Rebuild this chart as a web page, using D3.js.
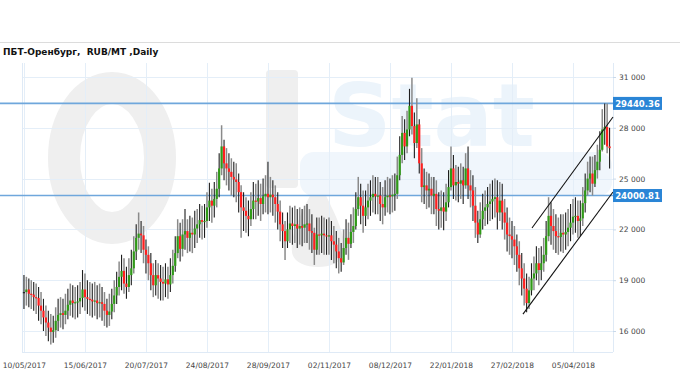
<!DOCTYPE html>
<html><head><meta charset="utf-8">
<script src="https://cdn.jsdelivr.net/npm/d3@7"></script>
<style>body{margin:0;background:#fff}svg{display:block}</style>
</head><body><svg id="c" width="680" height="380"></svg>
<script>
const title = "ПБТ-Оренбург,  RUB/MT ,Daily";
const tickIndex = [0,25,50,75,100,125,150,175,200,225];
const tickLabels = ["10/05/2017","15/06/2017","20/07/2017","24/08/2017","28/09/2017","02/11/2017","08/12/2017","22/01/2018","27/02/2018","05/04/2018"];
const yTicks = [16000,19000,22000,25000,28000,31000];
const levels = [29440.36, 24000.81];
const firstOpen = 18300;
const closes = [18300,18450,18200,18150,18000,17950,17500,17200,16800,16500,
16200,15950,16050,16600,16950,17050,16950,17200,17550,17800,
17650,17700,17750,17950,18450,18000,17900,17850,17750,17800,
17650,17700,17600,17200,16950,17150,17600,18100,18600,19200,
19550,18800,18600,19300,19700,20700,21500,21750,21650,20800,
20500,20000,19300,18700,19300,19100,18900,18800,19050,18750,
19300,19850,20600,21600,20850,21700,21900,21500,21800,21700,
22050,22300,22550,22450,22500,23300,23700,23400,23800,24400,
25600,26900,25900,25600,25400,25100,24950,24800,24200,23300,
23100,22800,22600,23200,23700,23650,23850,23500,23950,24100,
23900,24050,23900,23500,23050,22300,21900,21300,22000,22350,
22200,22300,22050,22200,22100,22300,22350,21900,21800,20800,
21700,21650,21750,21650,21600,21650,21300,21100,20700,20300,
20050,20900,21500,21150,21850,22200,23200,23900,23400,22800,
23300,23700,23900,24100,23950,24000,23500,23300,23900,24000,
23950,24050,24100,25200,26400,27700,26900,27900,29300,28100,
27100,28200,25900,24500,24600,24300,24400,24000,24100,23200,
23100,23300,23050,23600,24500,25600,24600,24800,24700,24900,
24600,25600,24600,24300,23400,22400,21700,22600,23100,23300,
23500,23650,23800,23900,23000,23700,23000,22400,21700,21600,
21400,21000,20500,19700,19100,18500,17650,18400,19100,19400,
20000,19600,20000,20500,21600,22800,22200,21900,21600,21550,
21800,21700,21850,22100,22400,22750,22800,22500,22650,23550,
24300,25000,25300,24700,25500,26000,26700,27900,28050,26900,
26800];
const highs = [19300,19200,19100,19000,18900,18800,18600,18300,17900,17500,
17200,17000,16900,17400,17900,18000,17900,18200,18500,18800,
18700,18600,18700,18900,19600,19400,19000,18900,18800,18900,
18700,18800,18600,18300,17900,18200,18500,19000,19500,20100,
20500,20300,19800,20300,20800,21600,22300,23000,22500,22200,
21400,21000,20600,20000,20200,20000,19900,19800,20000,19800,
20300,20800,21600,22600,22400,22600,23200,22600,22800,22700,
23100,23200,23500,23400,23500,24200,24750,24400,24800,25400,
26500,28150,27300,26800,26500,26200,26000,25900,25300,24600,
24200,23900,23700,24200,24800,24700,24900,24700,25000,25200,
26000,25100,24900,24600,24200,23700,23000,22500,23000,23400,
23300,23400,23200,23300,23200,23400,23500,23200,22900,22100,
22700,22700,22800,22700,22600,22700,22500,22200,21900,21500,
21200,22000,22600,22400,22900,23300,24200,25100,24700,24300,
24300,24700,24900,25200,25100,25100,24800,24500,24900,25100,
25000,25200,25300,26300,27500,28700,28500,29000,30300,30950,
28900,29750,28500,26800,25600,25400,25300,25100,25100,24900,
24200,24300,24200,24700,25500,26900,26400,25800,25700,25900,
25700,26500,26900,25500,25200,24500,23100,23600,24100,24300,
24500,24700,24900,25000,24900,24800,24700,23800,23300,22700,
22500,22200,21700,21300,20600,20000,19400,19200,20000,20400,
21000,20900,21000,21500,22500,23900,23600,23200,22900,22700,
22900,22900,23000,23200,23500,23800,23900,23700,23700,24500,
25300,26000,26300,26300,26400,27000,27800,29100,29440,29440,
28000];
const lows = [17300,17500,17400,17300,17200,17000,16600,16400,16000,15700,
15400,15200,15300,15600,16000,16200,16100,16400,16700,16900,
16800,16700,16800,17000,17400,17200,17000,16900,16800,16900,
16700,16800,16600,16300,16200,16300,16700,17100,17600,18100,
18400,18200,17900,18300,18700,19400,20200,20800,20600,20000,
19400,19000,18400,18000,18100,17900,17800,17800,18000,17900,
18300,18800,19500,20300,20100,20400,20800,20600,20700,20600,
20900,21200,21500,21400,21500,22100,22500,22400,22700,23300,
23900,25200,24900,24600,24300,24000,23900,23600,23000,21500,
21900,21800,21600,22200,22600,22600,22800,22500,22900,23000,
22900,23000,22800,22400,22000,21300,20900,20200,20900,21200,
21100,21200,20900,21100,21000,21200,21200,20800,20600,19900,
20500,20500,20600,20500,20500,20500,20200,20000,19700,19400,
19500,19900,20500,20200,20900,21200,22000,22800,22300,21800,
22200,22600,22800,23000,22900,22900,22500,22300,22800,23000,
22900,23000,23100,23800,24900,25900,26100,26500,27500,27600,
26200,26800,25300,23600,23500,23200,23300,22900,22900,22200,
22000,22100,21950,22500,23300,24300,23800,23700,23600,23800,
23500,24400,23800,23300,22500,21500,21200,21500,22000,22200,
22300,22500,22600,22700,22000,22500,22000,21400,20700,20500,
20300,19900,19500,18700,18100,17500,17100,17300,18100,18400,
19000,18700,19000,19500,20100,21300,21100,20800,20600,20500,
20700,20600,20800,21000,21300,21700,21800,21500,21600,22200,
23000,24000,24200,24000,24500,25000,25500,26600,27000,26500,
25600];
// trend channel endpoints: [bar index, price]
const trendUpper = [[208.2, 22080], [241.4, 28640]];
const trendLower = [[204.5, 17000], [241.4, 24210]];

const svg = d3.select("#c");
const L = 22, R = 613, T = 63, B = 352;
const x = d3.scaleLinear().domain([-0.8, 241.4]).range([L, R]);
const y = d3.scaleLinear().domain([16000, 31000]).range([331, 77]);

// header
svg.append("line").attr("x1",0).attr("x2",680).attr("y1",42.5).attr("y2",42.5).attr("stroke","#dcdcdc");
svg.append("text").attr("x",3).attr("y",55).attr("font-family","DejaVu Sans").attr("font-size",9)
  .attr("font-weight","bold").attr("fill","#111").style("white-space","pre").text(title);

// watermark
const wm = svg.append("g");
wm.append("ellipse").attr("cx",112).attr("cy",158).attr("rx",48).attr("ry",70)
  .attr("fill","none").attr("stroke","#efefef").attr("stroke-width",32);
wm.append("rect").attr("x",266).attr("y",70).attr("width",32).attr("height",118).attr("rx",4).attr("fill","#efefef");
wm.append("path").attr("d","M318,180 C300,215 290,235 292,252 C294,272 342,272 344,252 C346,235 336,215 318,180 Z").attr("fill","#efefef");
wm.append("rect").attr("x",300).attr("y",152).attr("width",312).attr("height",44).attr("rx",14).attr("fill","#f0f6fc");
wm.append("text").attr("x",328).attr("y",146).attr("font-family","DejaVu Sans").attr("font-weight","bold")
  .attr("font-size",88).attr("fill","#ecf4fb").text("Stat");

// grid
const grid = svg.append("g");
yTicks.forEach(v => grid.append("line").attr("x1",L).attr("x2",R).attr("y1",Math.round(y(v))+0.5).attr("y2",Math.round(y(v))+0.5).attr("stroke","#e4eef8"));
tickIndex.forEach(i => grid.append("line").attr("x1",Math.round(x(i))+0.5).attr("x2",Math.round(x(i))+0.5).attr("y1",T).attr("y2",B).attr("stroke","#e4eef8"));
grid.append("line").attr("x1",L+0.5).attr("x2",L+0.5).attr("y1",T).attr("y2",B).attr("stroke","#dfeaf6");
grid.append("line").attr("x1",L).attr("x2",R).attr("y1",B+0.5).attr("y2",B+0.5).attr("stroke","#dfeaf6");
grid.append("line").attr("x1",R+0.5).attr("x2",R+0.5).attr("y1",T).attr("y2",B).attr("stroke","#dfeaf6");

// level lines
levels.forEach(v => svg.append("line").attr("x1",0).attr("x2",R).attr("y1",y(v)).attr("y2",y(v))
  .attr("stroke","#6fa7dc").attr("stroke-width",1.6));

// candles
const data = closes.map((c,i) => ({i, o: i===0 ? firstOpen : closes[i-1], c, h: highs[i], l: lows[i]}));
const g = svg.append("g");
g.selectAll("line.w").data(data).join("line").attr("class","w")
  .attr("x1",d=>x(d.i)).attr("x2",d=>x(d.i)).attr("y1",d=>y(d.h)).attr("y2",d=>y(d.l))
  .attr("stroke",d=>d.i%2 ? "#8a8a8a" : "#1e1e1e").attr("stroke-width",d=>d.i%2 ? 1.5 : 1.1);
g.selectAll("rect.b").data(data).join("rect").attr("class","b")
  .attr("x",d=>x(d.i)-1.1).attr("width",2.2)
  .attr("y",d=>y(Math.max(d.o,d.c)))
  .attr("height",d=>Math.max(1.2, Math.abs(y(d.o)-y(d.c))))
  .attr("fill",d=>d.c>d.o ? "#2f9a17" : (d.c<d.o ? "#ff1f1f" : "#222"));

// trend lines
[trendUpper, trendLower].forEach(t => svg.append("line")
  .attr("x1",x(t[0][0])).attr("y1",y(t[0][1])).attr("x2",x(t[1][0])).attr("y2",y(t[1][1]))
  .attr("stroke","#111").attr("stroke-width",1.1));

// y axis
const fmt = v => d3.format(",")(v).replace(",", " ");
const ya = svg.append("g").attr("transform",`translate(${R},0)`)
  .call(d3.axisRight(y).tickValues(yTicks).tickFormat(fmt).tickSize(3).tickPadding(3));
ya.select(".domain").remove();
ya.selectAll("line").attr("stroke","#c9d9ea");
ya.selectAll("text").attr("font-family","DejaVu Sans").attr("font-size",7.5).attr("fill","#444");

// x axis
const xa = svg.append("g").attr("transform",`translate(0,${B})`)
  .call(d3.axisBottom(x).tickValues(tickIndex).tickFormat((d,k)=>tickLabels[k]).tickSize(0).tickPadding(11));
xa.select(".domain").remove();
xa.selectAll("text").attr("font-family","DejaVu Sans").attr("font-size",7.5).attr("fill","#444");

// level labels
levels.forEach(v => {
  const yy = y(v);
  svg.append("rect").attr("x",R).attr("y",yy-6.5).attr("width",49).attr("height",13).attr("fill","#2a85d6");
  svg.append("text").attr("x",R+24.5).attr("y",yy+3.2).attr("text-anchor","middle")
    .attr("font-family","DejaVu Sans").attr("font-weight","bold").attr("font-size",8.5).attr("fill","#fff")
    .text(d3.format(".2f")(v));
});
</script></body></html>
